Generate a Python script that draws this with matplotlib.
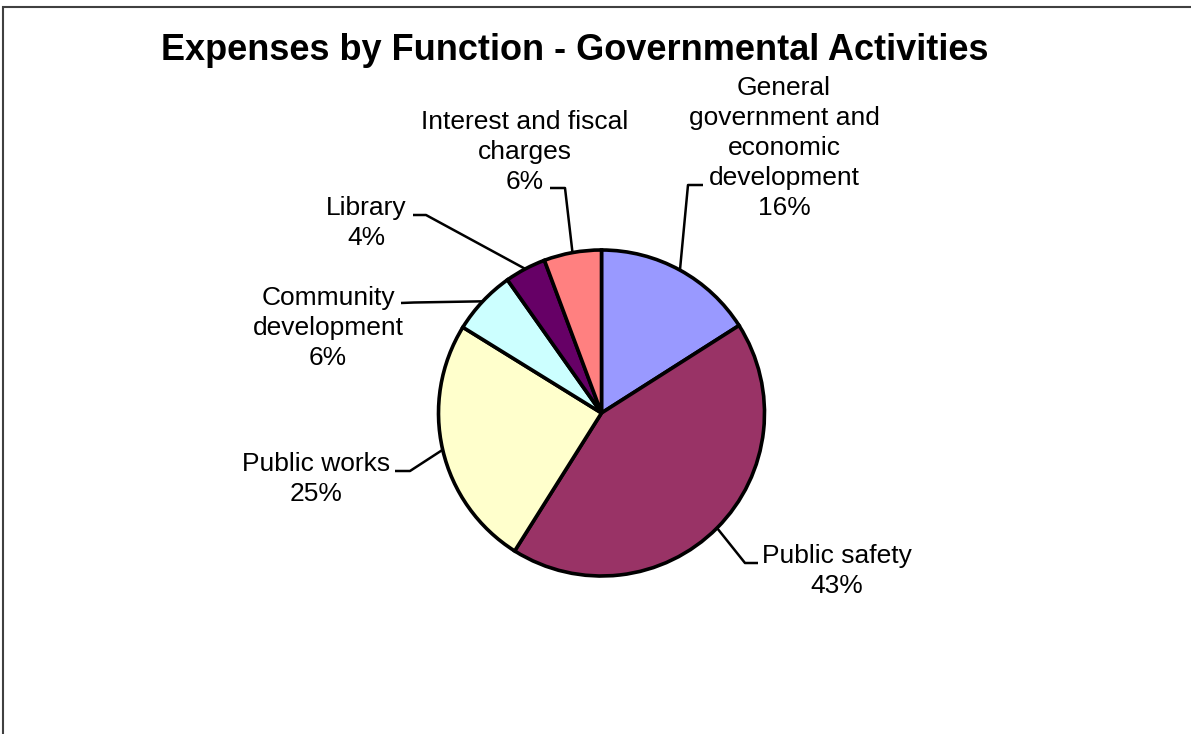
import numpy as np
import matplotlib.pyplot as plt

plt.rcParams['font.family'] = ['Liberation Sans', 'DejaVu Sans']

# expense shares by function (percent of total), clockwise from 12 o'clock
categories = [
    "General\ngovernment and\neconomic\ndevelopment",
    "Public safety",
    "Public works",
    "Community\ndevelopment",
    "Library",
    "Interest and fiscal\ncharges",
]
shares = [16.0, 43.0, 24.9, 6.4, 4.1, 5.7]
colors = ["#9999FF", "#993366", "#FFFFCC", "#CCFFFF", "#660066", "#FF8080"]

# label block centre, leader elbow, leader end (pixel coords)
label_pos = [(784, 148), (837, 571), (316, 479), (328, 328), (366, 223), (525, 152)]
elbows = [((688, 185), (703, 185)),
          ((745, 563), (758, 563)),
          ((410, 471), (395, 471)),
          ((414, 302.5), (401, 303)),
          ((426, 215), (413, 215)),
          ((565, 188), (550, 188))]

W, H = 1191, 734
fig = plt.figure(figsize=(W / 100, H / 100), dpi=100)
ax = fig.add_axes([0, 0, 1, 1])

cx, cy, r = 601.5, 413, 163
# y runs downward here, so -90 is straight up and counterclock reads as clockwise
wedges, _ = ax.pie(shares, colors=colors, startangle=-90, counterclock=True,
                   center=(cx, cy), radius=r,
                   wedgeprops=dict(edgecolor='black', linewidth=2.6))
ax.set_xlim(0, W)
ax.set_ylim(H, 0)
ax.set_aspect('equal')
ax.axis('off')

for w, name, val, (tx, ty), (p1, p2) in zip(wedges, categories, shares, label_pos, elbows):
    mid = np.deg2rad((w.theta1 + w.theta2) / 2)
    ax_pt = (cx + r * np.cos(mid), cy + r * np.sin(mid))
    ax.plot([ax_pt[0], p1[0], p2[0]], [ax_pt[1], p1[1], p2[1]],
            color='black', lw=1.8, solid_capstyle='butt', zorder=3)
    ax.text(tx, ty, f"{name}\n{round(val)}%", ha='center', va='center',
            fontsize=19, linespacing=1.32)

ax.text(575, 50, "Expenses by Function - Governmental Activities",
        ha='center', va='center', fontsize=26, fontweight='bold')

# chart area frame
ax.plot([3, 3, W], [H, 7, 7], color='#404040', lw=1.5, solid_joinstyle='miter')

fig.savefig("out.png", dpi=100)
